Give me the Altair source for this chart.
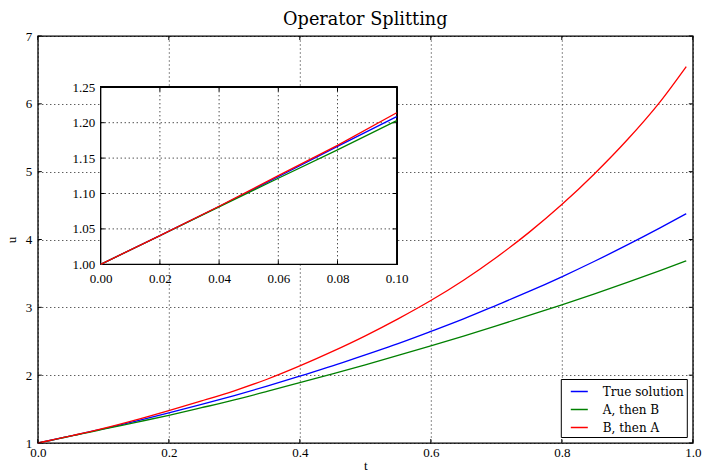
import altair as alt
import pandas as pd

# ---- data ----
t_vals = [0.0, 0.02, 0.04, 0.06, 0.08, 0.1, 0.15, 0.2, 0.25, 0.3, 0.35, 0.4, 0.45,
          0.5, 0.55, 0.6, 0.65, 0.7, 0.75, 0.8, 0.85, 0.9, 0.95, 0.99]
true_solution = [1.0, 1.0404, 1.0816, 1.1237, 1.1666, 1.2086, 1.324, 1.443, 1.568, 1.70,
                 1.838, 1.985, 2.136, 2.30, 2.466, 2.645, 2.83, 3.03, 3.234, 3.45,
                 3.679, 3.92, 4.171, 4.38]
a_then_b = [1.0, 1.0403, 1.0812, 1.1215, 1.1615, 1.203, 1.305, 1.408, 1.52, 1.635,
            1.76, 1.889, 2.019, 2.152, 2.29, 2.432, 2.577, 2.727, 2.88, 3.037,
            3.2, 3.367, 3.54, 3.685]
b_then_a = [1.0, 1.0405, 1.082, 1.1252, 1.168, 1.214, 1.34, 1.477, 1.62, 1.77,
            1.94, 2.136, 2.35, 2.58, 2.83, 3.10, 3.40, 3.735, 4.105, 4.515,
            4.97, 5.47, 6.03, 6.55]

series_names = ["True solution", "A, then B", "B, then A"]
series_colors = ["#0000ff", "#008000", "#ff0000"]

main_xticks = [0.0, 0.2, 0.4, 0.6, 0.8, 1.0]
main_yticks = [1, 2, 3, 4, 5, 6, 7]
inset_xticks = [0.0, 0.02, 0.04, 0.06, 0.08, 0.1]
inset_yticks = [1.0, 1.05, 1.10, 1.15, 1.20, 1.25]
inset_xgrid = [0.02, 0.04, 0.06, 0.08]
inset_ygrid = [1.05, 1.10, 1.15, 1.20]

rows = []
for name, vals in zip(series_names, [true_solution, a_then_b, b_then_a]):
    for tv, uv in zip(t_vals, vals):
        rows.append({"t": tv, "u": uv, "series": name})
df = pd.DataFrame(rows)
df_inset = df[df["t"] <= 0.1 + 1e-9]

FONT = "Liberation Serif"
W, H = 655, 407
TICK = 4  # inward tick length, px

# ---- main axes ----
mx_scale = alt.Scale(domain=[0, 1], nice=False, zero=False)
my_scale = alt.Scale(domain=[1, 7], nice=False, zero=False)
mx_axis = alt.Axis(values=main_xticks, format=".1f", title="t", grid=True,
                   ticks=False, labelPadding=3, titlePadding=0)
my_axis = alt.Axis(values=main_yticks, format="d", title="u", grid=True,
                   ticks=False, labelPadding=6, titlePadding=7)

color = alt.Color(
    "series:N",
    scale=alt.Scale(domain=series_names, range=series_colors),
    legend=alt.Legend(
        title=None, orient="bottom-right", offset=6,
        fillColor="white", strokeColor="black",
        padding=3, rowPadding=2, symbolType="stroke", symbolSize=289,
        symbolOffset=6, symbolStrokeWidth=1.5, labelFont="DejaVu Serif",
        labelFontSize=12, labelColor="black", labelOffset=14, cornerRadius=0,
    ),
)

lines = alt.Chart(df).mark_line(strokeWidth=1.3, interpolate="monotone").encode(
    x=alt.X("t:Q", scale=mx_scale, axis=mx_axis),
    y=alt.Y("u:Q", scale=my_scale, axis=my_axis),
    color=color,
    order=alt.Order("t:Q"),
)

ydf = pd.DataFrame({"v": main_yticks})
xdf = pd.DataFrame({"v": main_xticks})
tl = alt.Chart(ydf).mark_rule(color="black", strokeWidth=1).encode(
    y=alt.Y("v:Q", scale=my_scale, axis=my_axis), x=alt.value(0), x2=alt.value(TICK))
tr = alt.Chart(ydf).mark_rule(color="black", strokeWidth=1).encode(
    y=alt.Y("v:Q", scale=my_scale, axis=my_axis), x=alt.value(W - TICK), x2=alt.value(W))
tb = alt.Chart(xdf).mark_rule(color="black", strokeWidth=1).encode(
    x=alt.X("v:Q", scale=mx_scale, axis=mx_axis), y=alt.value(H - TICK), y2=alt.value(H))
tt = alt.Chart(xdf).mark_rule(color="black", strokeWidth=1).encode(
    x=alt.X("v:Q", scale=mx_scale, axis=mx_axis), y=alt.value(0), y2=alt.value(TICK))

main = alt.layer(lines, tl, tr, tb, tt)

# ---- inset ----
IX0, IX1 = 62.9, 358.9
IY0, IY1 = 228.3, 51.3
ix_scale = alt.Scale(domain=[0, 0.1], range=[IX0, IX1], nice=False, zero=False)
iy_scale = alt.Scale(domain=[1.0, 1.25], range=[IY0, IY1], nice=False, zero=False)
ix_axis = alt.Axis(orient="bottom", offset=-(H - IY0), values=inset_xticks, format=".2f",
                   grid=False, domain=False, ticks=False, labelPadding=8, title=None)
iy_axis = alt.Axis(orient="left", offset=-IX0, values=inset_yticks, format=".2f",
                   grid=False, domain=False, ticks=False, labelPadding=6, title=None)
tick_dx = 0.1 * TICK / (IX1 - IX0)
tick_dy = 0.25 * TICK / (IY0 - IY1)

box = alt.Chart(df_inset).mark_rect(fill="white", stroke="black", strokeWidth=1.3).encode(
    x=alt.X(datum=0.0, scale=ix_scale, axis=ix_axis, type="quantitative"),
    x2=alt.datum(0.1),
    y=alt.Y(datum=1.0, scale=iy_scale, axis=iy_axis, type="quantitative"),
    y2=alt.datum(1.25),
)

vgrid = alt.Chart(pd.DataFrame({"g": inset_xgrid})).mark_rule(
    color="black", strokeDash=[1, 3], strokeWidth=1).encode(
    x=alt.X("g:Q", scale=ix_scale, axis=ix_axis),
    y=alt.Y(datum=1.0, scale=iy_scale, axis=iy_axis, type="quantitative"),
    y2=alt.datum(1.25),
)
hgrid = alt.Chart(pd.DataFrame({"g": inset_ygrid})).mark_rule(
    color="black", strokeDash=[1, 3], strokeWidth=1).encode(
    y=alt.Y("g:Q", scale=iy_scale, axis=iy_axis),
    x=alt.X(datum=0.0, scale=ix_scale, axis=ix_axis, type="quantitative"),
    x2=alt.datum(0.1),
)

gx = pd.DataFrame({"g": inset_xgrid})
gy = pd.DataFrame({"g": inset_ygrid})
itb = alt.Chart(gx).mark_rule(color="black", strokeWidth=1).encode(
    x=alt.X("g:Q", scale=ix_scale, axis=ix_axis),
    y=alt.Y(datum=1.0, scale=iy_scale, axis=iy_axis, type="quantitative"),
    y2=alt.datum(1.0 + tick_dy))
itt = alt.Chart(gx).mark_rule(color="black", strokeWidth=1).encode(
    x=alt.X("g:Q", scale=ix_scale, axis=ix_axis),
    y=alt.Y(datum=1.25, scale=iy_scale, axis=iy_axis, type="quantitative"),
    y2=alt.datum(1.25 - tick_dy))
itl = alt.Chart(gy).mark_rule(color="black", strokeWidth=1).encode(
    y=alt.Y("g:Q", scale=iy_scale, axis=iy_axis),
    x=alt.X(datum=0.0, scale=ix_scale, axis=ix_axis, type="quantitative"),
    x2=alt.datum(tick_dx))
itr = alt.Chart(gy).mark_rule(color="black", strokeWidth=1).encode(
    y=alt.Y("g:Q", scale=iy_scale, axis=iy_axis),
    x=alt.X(datum=0.1, scale=ix_scale, axis=ix_axis, type="quantitative"),
    x2=alt.datum(0.1 - tick_dx))

ilines = alt.Chart(df_inset).mark_line(strokeWidth=1.3).encode(
    x=alt.X("t:Q", scale=ix_scale, axis=ix_axis),
    y=alt.Y("u:Q", scale=iy_scale, axis=iy_axis),
    color=alt.Color("series:N", scale=alt.Scale(domain=series_names, range=series_colors),
                    legend=None),
    order=alt.Order("t:Q"),
)

inset = alt.layer(box, vgrid, hgrid, itb, itt, itl, itr, ilines)

chart = alt.layer(main, inset).resolve_scale(x="independent", y="independent").properties(
    width=W, height=H,
    title=alt.TitleParams("Operator Splitting", font="DejaVu Serif", fontSize=17.7,
                          fontWeight="normal", color="black", offset=1),
    autosize=alt.AutoSizeParams(type="none"),
    padding={"left": 37.8, "top": 36, "right": 9.2, "bottom": 29},
).configure_view(stroke="black", strokeWidth=1.3).configure_axis(
    labelFont=FONT, labelFontSize=13, labelColor="black", labelFlush=False,
    titleFont=FONT, titleFontSize=13, titleColor="black", titleFontWeight="normal",
    domain=False, gridColor="black", gridDash=[1, 3], gridOpacity=0.9, gridWidth=1,
)

chart.save("out.html", embed_options={"renderer": "svg", "actions": False})
